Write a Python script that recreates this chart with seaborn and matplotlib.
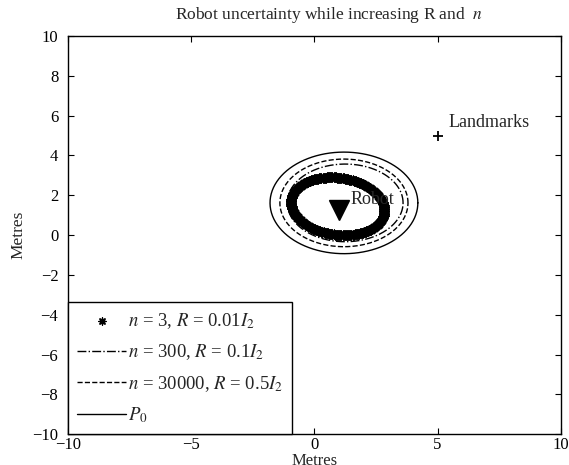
import numpy as np
import matplotlib
matplotlib.use("Agg")
import matplotlib.pyplot as plt
import seaborn as sns

# covariance ellipses (centre x, centre y, semi-axis a, semi-axis b, tilt deg)
labels = [r"$n$ = 3, $R$ = 0.01$I_2$",
          r"$n$ = 300, $R$ = 0.1$I_2$",
          r"$n$ = 30000, $R$ = 0.5$I_2$",
          r"$P_0$"]
cx = [0.95, 1.25, 1.2, 1.2]
cy = [1.45, 1.62, 1.62, 1.62]
semi_a = [1.92, 2.35, 2.6, 3.0]
semi_b = [1.42, 1.95, 2.2, 2.55]
tilt = [-14, 0, 0, 0]
styles = ["stars", "-.", "--", "-"]

robot = (1.0, 1.25)
landmark = (5.0, 5.0)
xticks = [-10, -5, 0, 5, 10]
yticks = [-10, -8, -6, -4, -2, 0, 2, 4, 6, 8, 10]

sns.set_style("ticks")
plt.rcParams["font.family"] = ["Liberation Serif", "DejaVu Serif"]
plt.rcParams["mathtext.fontset"] = "stix"
plt.rcParams["font.size"] = 12

fig = plt.figure(figsize=(5.69, 4.65), dpi=100)
ax = fig.add_axes([0.1195, 0.066, 0.866, 0.8566])


def outline(i, n):
    t = np.linspace(0, 2 * np.pi, n)
    th = np.deg2rad(tilt[i])
    ex = semi_a[i] * np.cos(t)
    ey = semi_b[i] * np.sin(t)
    return (cx[i] + ex * np.cos(th) - ey * np.sin(th),
            cy[i] + ex * np.sin(th) + ey * np.cos(th))


asterisk = (8, 2, 0)
for i in range(4):
    if styles[i] == "stars":
        x, y = outline(i, 260)
        sns.scatterplot(x=x, y=y, marker=asterisk, color="black", s=40,
                        linewidth=1.0, ax=ax, label=labels[i])
    else:
        x, y = outline(i, 400)
        sns.lineplot(x=x, y=y, sort=False, estimator=None, color="black",
                     linestyle=styles[i], linewidth=1.0, ax=ax, label=labels[i])

ax.plot(robot[0], robot[1], marker="v", color="black", markersize=15, linestyle="none")
ax.text(robot[0] + 0.45, robot[1] + 0.55, "Robot", fontsize=13, va="center")
ax.plot(landmark[0], landmark[1], marker="+", color="black", markersize=7,
        markeredgewidth=1.3, linestyle="none")
ax.text(landmark[0] + 0.45, landmark[1] + 0.65, "Landmarks", fontsize=13, va="center")

ax.set_xlim(-10, 10)
ax.set_ylim(-10, 10)
ax.set_xticks(xticks)
ax.set_yticks(yticks)
ax.set_xticklabels([str(v).replace("-", "\u2212") for v in xticks])
ax.set_yticklabels([str(v).replace("-", "\u2212") for v in yticks])
ax.tick_params(direction="in", length=4, width=0.8, top=True, right=True,
               labelsize=12, colors="black")
ax.tick_params(axis="x", pad=2)
ax.tick_params(axis="y", pad=7)
for sp in ax.spines.values():
    sp.set_visible(True)
    sp.set_linewidth(1.0)
    sp.set_color("black")

ax.set_title(r"Robot uncertainty while increasing R and  $n$", fontsize=12.5,
             pad=12, x=0.53)
ax.set_xlabel("Metres", fontsize=12, labelpad=0)
ax.set_ylabel("Metres", fontsize=12.5, labelpad=4)

leg = ax.legend(loc="lower left", borderaxespad=0, fancybox=False, framealpha=1,
                edgecolor="black", fontsize=13.5, handlelength=2.6,
                handletextpad=0.1, labelspacing=0.62, borderpad=0.5,
                markerscale=0.8)
leg.get_frame().set_linewidth(1.0)

fig.savefig("out.png", dpi=100)
